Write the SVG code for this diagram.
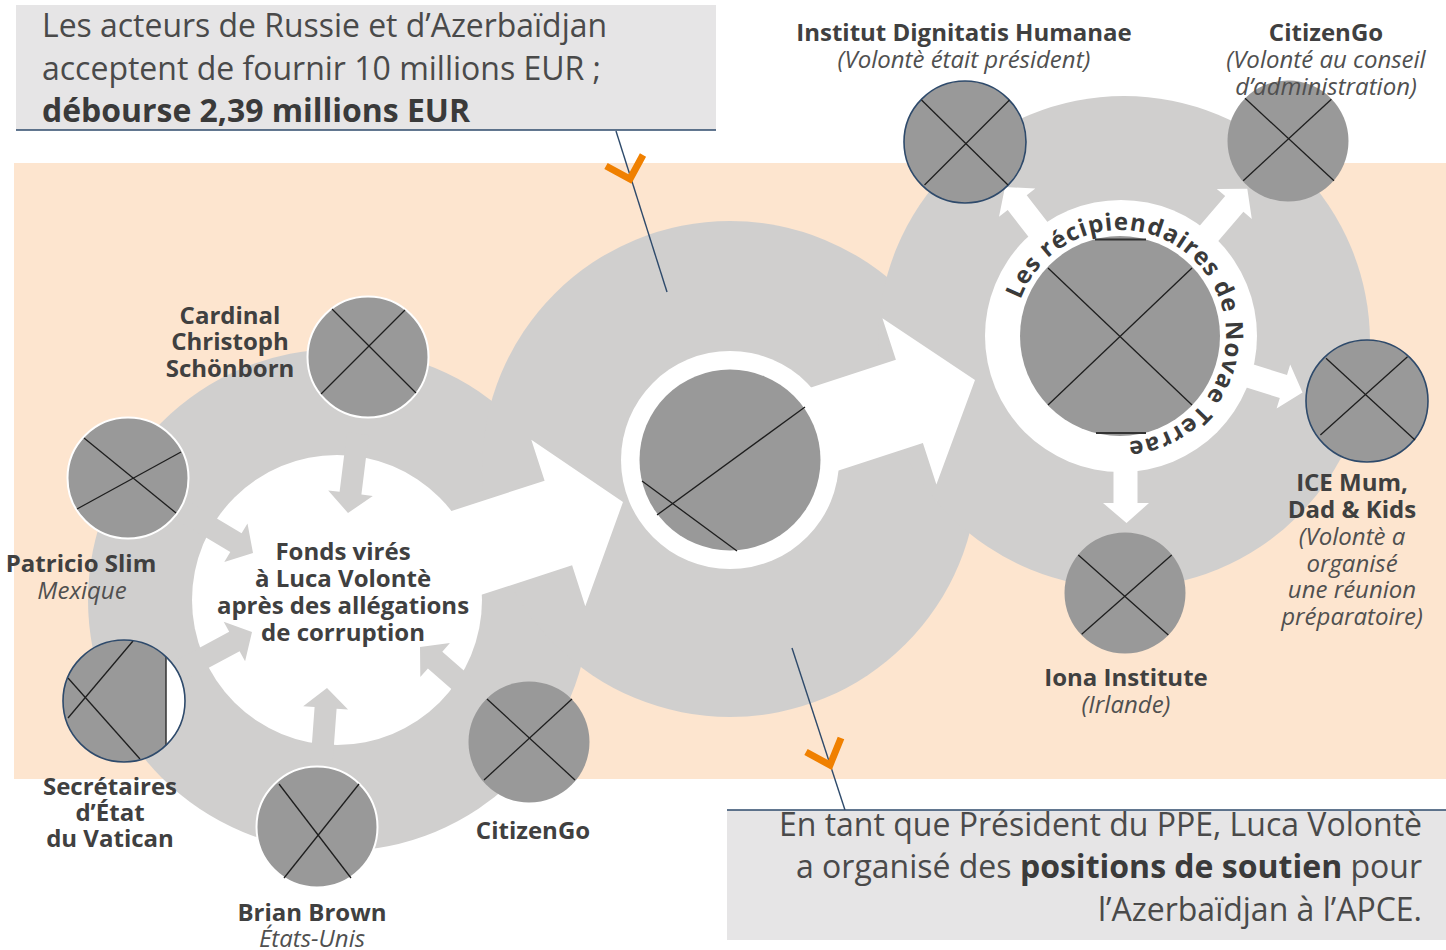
<svg xmlns="http://www.w3.org/2000/svg" width="1446" height="950" viewBox="0 0 1446 950">
<defs>
<style>
.ring{fill:#D0CFCE}
.hole{fill:#FFFFFF}
.img{fill:#999999}
.x{stroke:#1E1E1E;stroke-width:1.3;fill:none}
.bs{stroke:#2E4A6B;stroke-width:1.6}
.ws{stroke:#FFFFFF;stroke-width:2}
.lab{font-family:"Open Sans","Noto Sans","DejaVu Sans",sans-serif;font-weight:700;font-size:24px;fill:#404040;text-anchor:middle}
.sub{font-family:"Open Sans","Noto Sans","DejaVu Sans",sans-serif;font-style:italic;font-size:24px;fill:#505050;text-anchor:middle}
.box{font-family:"Open Sans","Noto Sans","DejaVu Sans",sans-serif;font-size:32px;fill:#4A4A4A}
.b{font-weight:700;fill:#3A3A3A}
.ptr{stroke:#2E4A6B;stroke-width:1.4;fill:none}
.chev{stroke:#F08000;stroke-width:7;fill:none;stroke-linejoin:miter;stroke-linecap:butt}
.warw{fill:#FFFFFF}
.garw{fill:#D0CFCE}
.arc{font-family:"Open Sans","Noto Sans","DejaVu Sans",sans-serif;font-weight:700;font-size:24px;fill:#3A3A3A;letter-spacing:1px}
</style>
<path id="arcpath" d="M1020.4,299.7 A106,106 0 0 1 1201.2,267.9 A106,106 0 0 1 1138.4,440.4 A106,106 0 0 1 1020.4,299.7"/>
</defs>

<rect x="0" y="0" width="1446" height="950" fill="#FFFFFF"/>
<rect id="background" x="14" y="163" width="1432" height="616" fill="#FDE5CF"/>

<g id="rings">
<circle class="ring" cx="339" cy="600" r="251"/>
<circle class="ring" cx="730" cy="469" r="248"/>
<circle class="ring" cx="1124" cy="342" r="246"/>
<circle class="hole" cx="337" cy="600" r="145"/>
<circle class="hole" cx="730" cy="460" r="109"/>
<circle class="hole" cx="1121" cy="336" r="136"/>
</g>

<g id="connectors">
<polygon class="warw" points="459.0,602.1 572.1,565.3 585.3,606.2 623,502 531.3,439.8 544.6,480.7 431.5,517.5"/>
<polygon class="warw" points="743.5,501.6 922.9,442.9 936.4,484.4 975,380 882.4,318.2 895.9,359.7 716.5,418.4"/>
<polygon class="warw" points="1056.8,233.9 1026.7,195.3 1035.3,188.6 1005.0,186.9 999.0,216.8 1007.7,210.1 1037.8,248.7"/>
<polygon class="warw" points="1208.2,252.7 1243.4,211.7 1251.8,218.9 1247.3,188.8 1216.8,188.9 1225.2,196.1 1190.0,237.1"/>
<polygon class="warw" points="1232.0,383.1 1279.8,398.0 1276.6,408.5 1302.5,392.4 1290.2,364.5 1287.0,375.0 1239.2,360.1"/>
<polygon class="warw" points="1113.5,468 1113.5,503 1103,503 1126.5,523 1149,503 1137.5,503 1137.5,468"/>
<polygon class="garw" points="368.8,435.0 361.4,494.6 372.8,496.0 348,513 328.2,490.4 339.6,491.8 347.0,432.2"/>
<polygon class="garw" points="178.8,521.3 230.3,552.1 224.3,562.0 253,553 247.5,523.4 241.6,533.3 190.1,502.5"/>
<polygon class="garw" points="186.8,679.6 239.6,651.2 245.1,661.3 252,632 223.7,621.7 229.2,631.8 176.4,660.2"/>
<polygon class="garw" points="332.2,768.6 336.6,708.7 348.0,709.5 327,688 303.2,706.3 314.6,707.1 310.2,767.0"/>
<polygon class="garw" points="487.5,691.3 442.3,651.8 449.9,643.1 420,647 420.3,677.1 427.9,668.4 473.1,707.9"/>
<line class="ptr" x1="616" y1="131" x2="667" y2="292"/>
<polyline class="chev" points="606,166 630,179 643,155"/>
<line class="ptr" x1="792" y1="648" x2="845" y2="810"/>
<polyline class="chev" points="806,752 830,765 841,738"/>
</g>

<g id="box-top">
<rect x="16" y="5" width="700" height="125" fill="#E6E5E6"/>
<line x1="16" y1="130" x2="716" y2="130" stroke="#2E4A6B" stroke-width="1.5"/>
<text class="box" x="42" y="37" textLength="565" lengthAdjust="spacingAndGlyphs">Les acteurs de Russie et d’Azerbaïdjan</text>
<text class="box" x="42" y="80" textLength="559" lengthAdjust="spacingAndGlyphs">acceptent de fournir 10 millions EUR ;</text>
<text class="box b" x="42" y="122" textLength="428" lengthAdjust="spacingAndGlyphs">débourse 2,39 millions EUR</text>
</g>

<g id="box-bottom">
<rect x="727" y="810" width="719" height="130" fill="#E6E5E6"/>
<line x1="727" y1="810" x2="1446" y2="810" stroke="#2E4A6B" stroke-width="1.5"/>
<text class="box" x="1422" y="836" text-anchor="end">En tant que Président du PPE, Luca Volontè</text>
<text class="box" x="1422" y="878" text-anchor="end">a organisé des <tspan class="b">positions de soutien</tspan> pour</text>
<text class="box" x="1422" y="921" text-anchor="end">l’Azerbaïdjan à l’APCE.</text>
</g>

<g id="node-fonds">
<text class="lab" x="343" y="560">Fonds virés</text>
<text class="lab" x="343" y="587">à Luca Volontè</text>
<text class="lab" x="343" y="614">après des allégations</text>
<text class="lab" x="343" y="641">de corruption</text>
</g>

<g id="node-cardinal">
<circle class="img ws" cx="368" cy="357" r="60.5"/>
<line class="x" x1="332" y1="309" x2="416" y2="393"/>
<line class="x" x1="405" y1="310" x2="321" y2="394"/>
<text class="lab" x="230" y="324">Cardinal</text>
<text class="lab" x="230" y="350">Christoph</text>
<text class="lab" x="230" y="377">Schönborn</text>
</g>

<g id="node-patricio">
<circle class="img ws" cx="128" cy="478" r="60.5"/>
<line class="x" x1="84" y1="438" x2="176" y2="513"/>
<line class="x" x1="181" y1="452" x2="77" y2="509"/>
<text class="lab" x="81" y="572">Patricio Slim</text>
<text class="sub" x="82" y="599">Mexique</text>
</g>

<g id="node-secretaires">
<circle cx="124" cy="701" r="61" fill="#FFFFFF"/>
<path class="img" d="M166,656.8 A61,61 0 1 0 166,745.2 Z"/>
<line x1="166" y1="656.8" x2="166" y2="745.2" stroke="#333" stroke-width="1.5"/>
<line class="x" x1="133" y1="641" x2="68" y2="718"/>
<line class="x" x1="68" y1="678" x2="140" y2="759"/>
<circle cx="124" cy="701" r="61" fill="none" class="bs"/>
<text class="lab" x="110" y="795">Secrétaires</text>
<text class="lab" x="110" y="821">d’État</text>
<text class="lab" x="110" y="847">du Vatican</text>
</g>

<g id="node-brian">
<circle class="img ws" cx="317" cy="827" r="60.5"/>
<line class="x" x1="279" y1="784" x2="351" y2="878"/>
<line class="x" x1="359" y1="784" x2="284" y2="878"/>
<text class="lab" x="312" y="921">Brian Brown</text>
<text class="sub" x="312" y="947">États-Unis</text>
</g>

<g id="node-citizengo-left">
<circle class="img" cx="529" cy="742" r="60.5"/>
<line class="x" x1="487" y1="699" x2="575" y2="780"/>
<line class="x" x1="572" y1="699" x2="484" y2="780"/>
<text class="lab" x="533" y="839">CitizenGo</text>
</g>

<g id="node-volonte">
<circle class="img" cx="730" cy="460" r="90.5"/>
<line class="x" x1="805" y1="407" x2="657" y2="515"/>
<line class="x" x1="642" y1="481" x2="737" y2="551"/>
</g>

<g id="node-novae">
<circle class="img" cx="1120" cy="336" r="100"/>
<line class="x" x1="1048" y1="268" x2="1192" y2="405"/>
<line class="x" x1="1192" y1="268" x2="1048" y2="405"/>
<line x1="1095" y1="239.5" x2="1146" y2="239.5" stroke="#333" stroke-width="2"/>
<line x1="1096" y1="433" x2="1146" y2="433" stroke="#333" stroke-width="2"/>
<text class="arc"><textPath href="#arcpath" startOffset="0">Les récipiendaires de Novae Terrae</textPath></text>
</g>

<g id="node-institut">
<circle class="img bs" cx="965" cy="142" r="61"/>
<line class="x" x1="921.5" y1="100" x2="1008" y2="185"/>
<line class="x" x1="1009.5" y1="100" x2="924.5" y2="185"/>
<text class="lab" x="964" y="41">Institut Dignitatis Humanae</text>
<text class="sub" x="964" y="68">(Volontè était président)</text>
</g>

<g id="node-citizengo-right">
<circle class="img" cx="1288" cy="141" r="60.5"/>
<line class="x" x1="1245" y1="98.3" x2="1334" y2="180.7"/>
<line class="x" x1="1331.4" y1="99.3" x2="1243.2" y2="180.7"/>
<text class="lab" x="1326" y="41">CitizenGo</text>
<text class="sub" x="1326" y="68">(Volonté au conseil</text>
<text class="sub" x="1326" y="95">d’administration)</text>
</g>

<g id="node-ice">
<circle class="img bs" cx="1367" cy="401" r="61"/>
<line class="x" x1="1326" y1="358.3" x2="1415" y2="440"/>
<line class="x" x1="1407.5" y1="356.7" x2="1320.4" y2="435"/>
<text class="lab" x="1352" y="491">ICE Mum,</text>
<text class="lab" x="1352" y="518">Dad &amp; Kids</text>
<text class="sub" x="1352" y="545">(Volontè a</text>
<text class="sub" x="1352" y="572">organisé</text>
<text class="sub" x="1352" y="598">une réunion</text>
<text class="sub" x="1352" y="625">préparatoire)</text>
</g>

<g id="node-iona">
<circle class="img" cx="1125" cy="593" r="60.5"/>
<line class="x" x1="1078.3" y1="555" x2="1168.3" y2="635"/>
<line class="x" x1="1171.7" y1="555" x2="1081.7" y2="634.3"/>
<text class="lab" x="1126" y="686">Iona Institute</text>
<text class="sub" x="1126" y="713">(Irlande)</text>
</g>
</svg>
